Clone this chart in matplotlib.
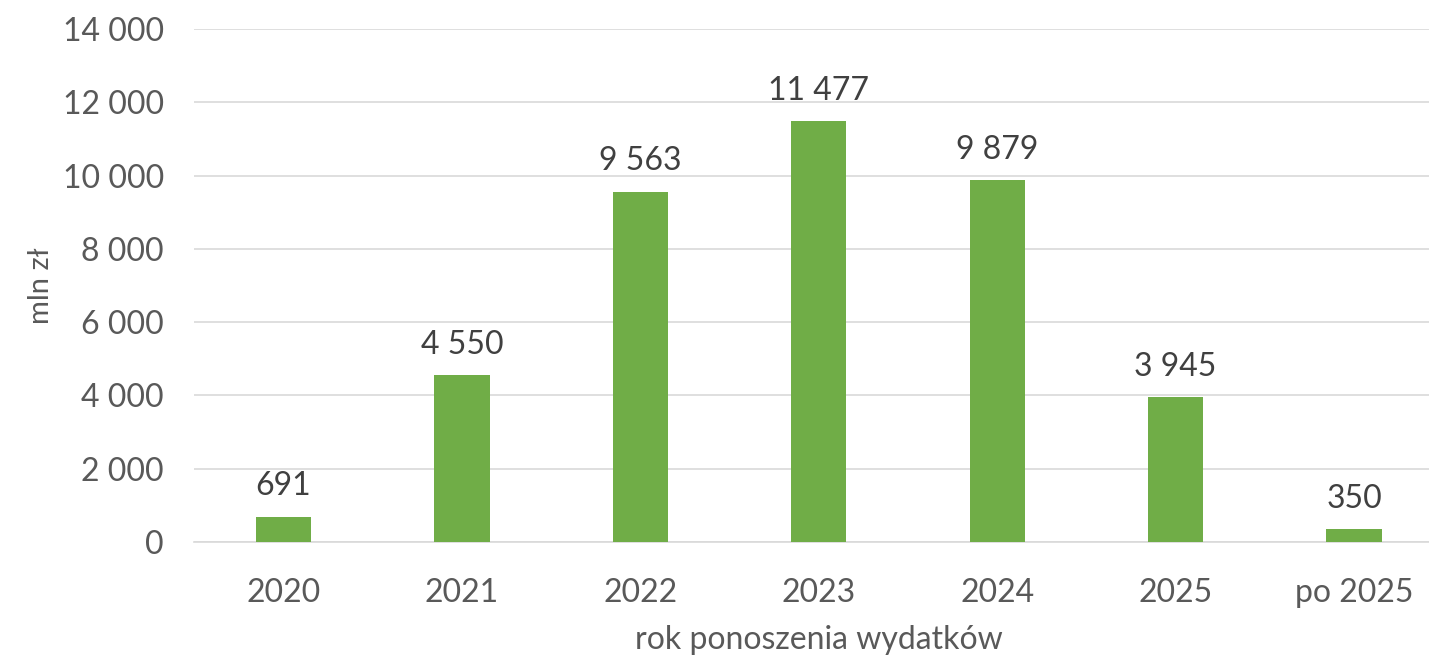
import matplotlib.pyplot as plt
import numpy as np

# data
years = ['2020', '2021', '2022', '2023', '2024', '2025', 'po 2025']
spend = [691, 4550, 9563, 11477, 9879, 3945, 350]
yticks = [0, 2000, 4000, 6000, 8000, 10000, 12000, 14000]


def fmt(v):
    # polish style thousands separator (space)
    return f'{v:,}'.replace(',', ' ')


plt.rcParams['font.family'] = ['Lato', 'DejaVu Sans']

fig = plt.figure(figsize=(14.29, 6.60), dpi=100)
ax = fig.add_axes([0.136, 0.179, 0.874, 0.777])

x = np.arange(len(years))
bars = ax.bar(x, spend, width=0.31, color='#70AD47', zorder=3)

for xi, v in zip(x, spend):
    ax.text(xi, v + 420, fmt(v), ha='center', va='bottom',
            fontsize=23, color='#404040')

ax.set_ylim(0, 14000)
ax.set_xlim(-0.5, len(years) - 0.5)
ax.set_yticks(yticks)
ax.set_yticklabels([fmt(t) for t in yticks], fontsize=23, color='#595959')
ax.set_xticks(x)
ax.set_xticklabels(years, fontsize=23, color='#595959')
ax.tick_params(length=0, pad=22)
ax.tick_params(axis='x', pad=26)

ax.grid(axis='y', color='#D9D9D9', lw=1.2, zorder=0)
for s in ['top', 'right', 'left']:
    ax.spines[s].set_visible(False)
ax.spines['bottom'].set_color('#D9D9D9')
ax.spines['bottom'].set_linewidth(1.2)

ax.set_ylabel('mln zł', fontsize=21, color='#595959')
ax.set_xlabel('rok ponoszenia wydatków', fontsize=23, color='#595959', labelpad=12)
ax.yaxis.set_label_coords(-0.112, 0.50)

plt.savefig('out.png', dpi=100)
